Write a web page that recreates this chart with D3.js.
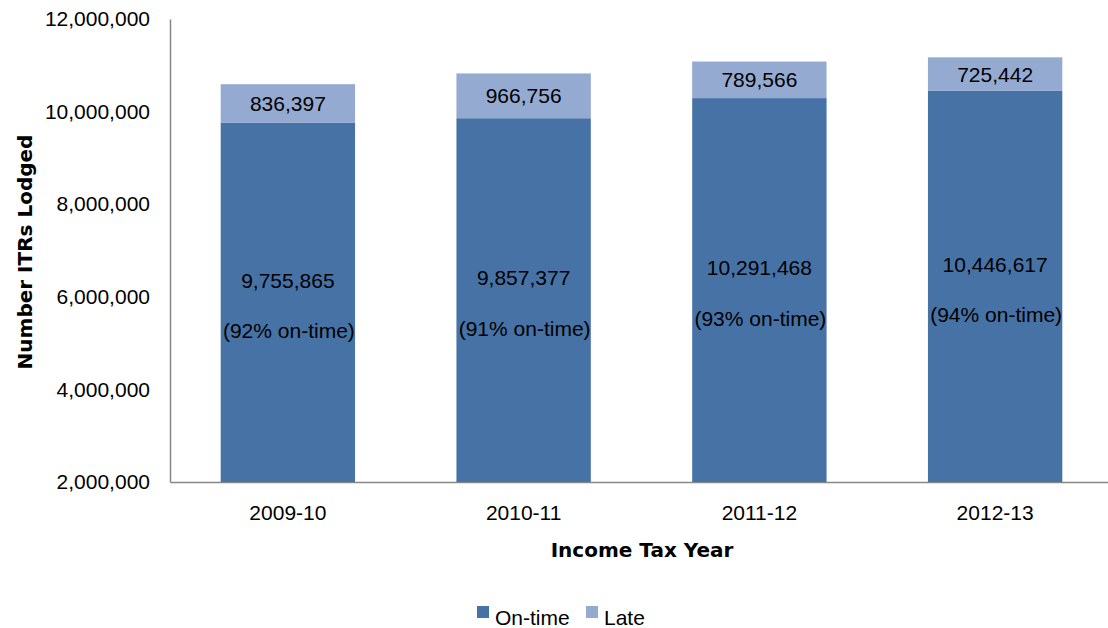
<!DOCTYPE html>
<html>
<head>
<meta charset="utf-8">
<script src="https://cdn.jsdelivr.net/npm/d3@7"></script>
<style>
  body { margin: 0; background: #fff; }
  svg text { font-family: "Liberation Sans", Arial, sans-serif; fill: #000; }
  .axis-title { font-family: "DejaVu Sans", Verdana, sans-serif; font-weight: bold; }
</style>
</head>
<body>
<svg width="1108" height="628"></svg>
<script>
const years = ["2009-10", "2010-11", "2011-12", "2012-13"];
const onTime = [9755865, 9857377, 10291468, 10446617];
const late = [836397, 966756, 789566, 725442];
const pctOnTime = ["92%", "91%", "93%", "94%"];
const yTicks = [2000000, 4000000, 6000000, 8000000, 10000000, 12000000];

const svg = d3.select("svg");
const margin = { top: 19, right: -5, bottom: 146, left: 170 };
const width = 1108 - margin.left - margin.right;
const height = 628 - margin.top - margin.bottom;

const colors = { onTime: "#4672a6", late: "#95aad0" };
const fmt = d3.format(",");

const g = svg.append("g").attr("transform", `translate(${margin.left},${margin.top})`);

const x = d3.scaleBand().domain(years).range([0, width]).paddingInner(0.43).paddingOuter(0.215);
const y = d3.scaleLinear().domain([2000000, 12000000]).range([height, 0]);

// y axis
const yAxis = g.append("g").call(d3.axisLeft(y).tickValues(yTicks).tickSize(0).tickPadding(20).tickFormat(fmt));
yAxis.select(".domain").attr("stroke", "#888").attr("stroke-width", 1.5);
yAxis.selectAll("text").style("font-size", "21px");

// x axis
const xAxis = g.append("g").attr("transform", `translate(0,${height})`)
  .call(d3.axisBottom(x).tickSize(0).tickPadding(23));
xAxis.select(".domain").attr("stroke", "#888").attr("stroke-width", 1.5);
xAxis.selectAll("text").style("font-size", "21px");

const rows = years.map((yr, i) => ({ year: yr, onTime: onTime[i], late: late[i], pct: pctOnTime[i] }));

// on-time segments
g.selectAll("rect.ontime").data(rows).enter().append("rect")
  .attr("class", "ontime")
  .attr("x", d => x(d.year))
  .attr("width", x.bandwidth())
  .attr("y", d => y(d.onTime))
  .attr("height", d => y(2000000) - y(d.onTime))
  .attr("fill", colors.onTime);

// late segments
g.selectAll("rect.late").data(rows).enter().append("rect")
  .attr("class", "late")
  .attr("x", d => x(d.year))
  .attr("width", x.bandwidth())
  .attr("y", d => y(d.onTime + d.late))
  .attr("height", d => y(d.onTime) - y(d.onTime + d.late))
  .attr("fill", colors.late);

// labels in late segments
g.selectAll("text.late-lbl").data(rows).enter().append("text")
  .attr("class", "late-lbl")
  .attr("x", d => x(d.year) + x.bandwidth() / 2)
  .attr("y", d => (y(d.onTime) + y(d.onTime + d.late)) / 2)
  .attr("dy", "0.36em")
  .attr("text-anchor", "middle")
  .style("font-size", "21px")
  .text(d => fmt(d.late));

// labels in on-time segments
const mid = d => (y(d.onTime) + y(2000000)) / 2;
g.selectAll("text.on-val").data(rows).enter().append("text")
  .attr("x", d => x(d.year) + x.bandwidth() / 2)
  .attr("y", d => mid(d) - 22.5)
  .attr("dy", "0.36em")
  .attr("text-anchor", "middle")
  .style("font-size", "21px")
  .text(d => fmt(d.onTime));
g.selectAll("text.on-pct").data(rows).enter().append("text")
  .attr("x", d => x(d.year) + x.bandwidth() / 2 + 1)
  .attr("y", d => mid(d) + 28)
  .attr("dy", "0.36em")
  .attr("text-anchor", "middle")
  .style("font-size", "21px")
  .text(d => `(${d.pct} on-time)`);

// axis titles
svg.append("text").attr("class", "axis-title")
  .attr("x", 642).attr("y", 557)
  .attr("text-anchor", "middle")
  .style("font-size", "20px")
  .text("Income Tax Year");

svg.append("text").attr("class", "axis-title")
  .attr("transform", "translate(32,252) rotate(-90)")
  .attr("text-anchor", "middle")
  .style("font-size", "20px")
  .text("Number ITRs Lodged");

// legend
const legend = svg.append("g");
const items = [{ name: "On-time", color: colors.onTime, x: 477 }, { name: "Late", color: colors.late, x: 586 }];
items.forEach(it => {
  legend.append("rect").attr("x", it.x).attr("y", 606).attr("width", 12).attr("height", 12).attr("fill", it.color);
  legend.append("text").attr("x", it.x + 18).attr("y", 617).attr("dy", "0.36em")
    .style("font-size", "21px").text(it.name);
});
</script>
</body>
</html>
